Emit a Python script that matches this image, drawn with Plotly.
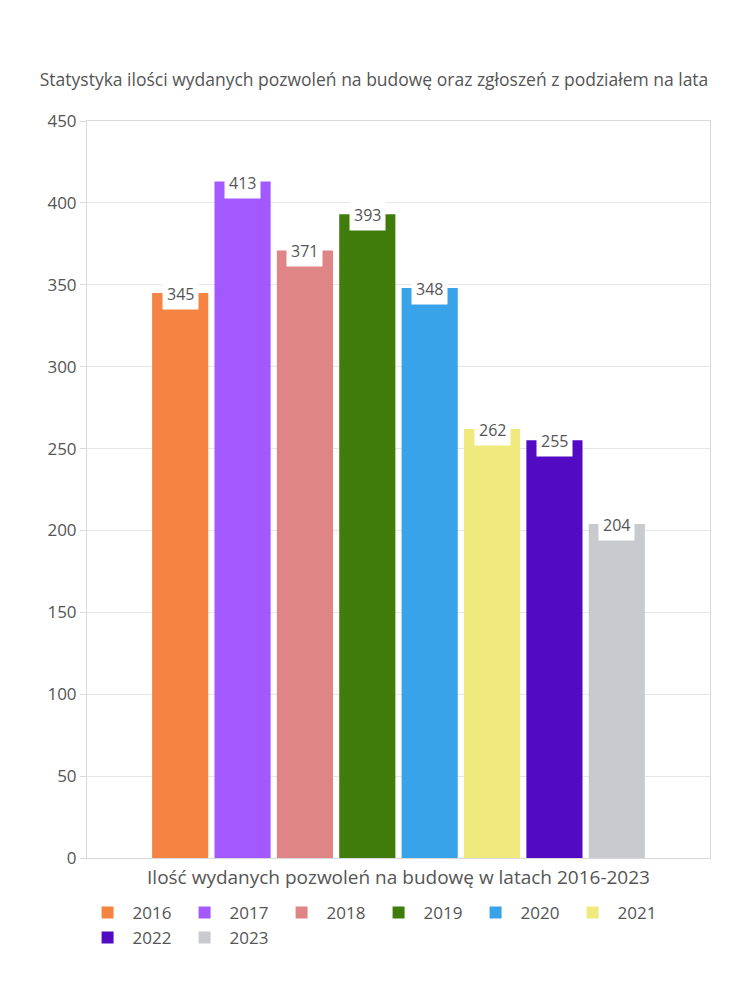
import plotly.graph_objects as go

years = ["2016", "2017", "2018", "2019", "2020", "2021", "2022", "2023"]
values = [345, 413, 371, 393, 348, 262, 255, 204]
colors = ["#F58442", "#A259FF", "#E08585", "#3F7C0C", "#38A3E8", "#F0EA7E", "#520BC3", "#C9CACE"]
title_text = "Statystyka ilości wydanych pozwoleń na budowę oraz zgłoszeń z podziałem na lata"
xaxis_title = "Ilość wydanych pozwoleń na budowę w latach 2016-2023"

FONT = "'Open Sans', 'Noto Sans', sans-serif"
TXT = "#555555"
BARGAP = 0.199
GROUPGAP = 0.1

fig = go.Figure()
for y, v, c in zip(years, values, colors):
    fig.add_trace(go.Bar(x=[0], y=[v], name=y, marker=dict(color=c, line=dict(width=0)),
                         hoverinfo="y+name"))

n = len(years)
slot = (1 - BARGAP) / n
for i, v in enumerate(values):
    xc = -(1 - BARGAP) / 2 + (i + 0.5) * slot
    fig.add_annotation(x=xc, y=v, xref="x", yref="y", text=str(v), showarrow=False,
                       yanchor="middle", yshift=-1, bgcolor="white", borderpad=4,
                       font=dict(family=FONT, size=16, color=TXT))

fig.update_layout(
    width=750, height=1000,
    margin=dict(l=87, r=40, t=121, b=142),
    paper_bgcolor="white", plot_bgcolor="white",
    barmode="group", bargap=BARGAP, bargroupgap=GROUPGAP,
    font=dict(family=FONT, size=16, color=TXT),
    title=dict(text=title_text, x=0.053, xanchor="left", y=0.92, yanchor="middle",
               font=dict(family=FONT, size=17.5, color=TXT)),
    xaxis=dict(range=[-0.5, 0.5], showticklabels=False, showgrid=False, zeroline=False,
               showline=True, linecolor="#d9d9d9", mirror=True, ticks="",
               title=dict(text=xaxis_title, font=dict(family=FONT, size=19, color=TXT), standoff=12)),
    yaxis=dict(range=[0, 450], dtick=50, showgrid=True, gridcolor="#e6e6e6", zeroline=False,
               showline=True, linecolor="#d9d9d9", mirror=True, ticks="outside", ticklen=6,
               tickcolor="#d9d9d9", tickfont=dict(family=FONT, size=17, color=TXT)),
    legend=dict(orientation="h", x=0.46, xanchor="center", y=-0.05, yanchor="top",
                font=dict(family=FONT, size=17, color=TXT), entrywidth=42, itemwidth=40,
                traceorder="normal"),
    showlegend=True,
)

fig.write_html("out.html")
